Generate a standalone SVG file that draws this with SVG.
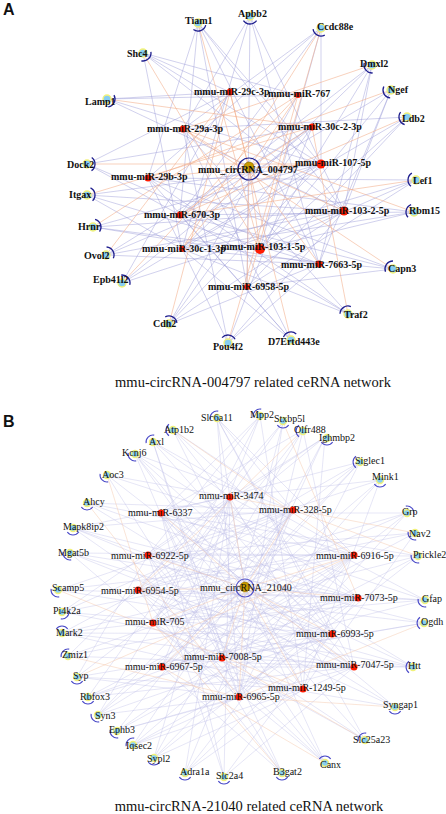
<svg xmlns="http://www.w3.org/2000/svg" xmlns:xlink="http://www.w3.org/1999/xlink" width="446" height="814" viewBox="0 0 446 814">
<style>
.ea{stroke:#9a9ad8;stroke-width:0.7;fill:none;opacity:0.65}
.oa{stroke:#f3ad88;stroke-width:0.7;fill:none;opacity:0.8}
.eb{stroke:#bcbce8;stroke-width:0.55;fill:none;opacity:0.7}
.ob{stroke:#f5c6ab;stroke-width:0.55;fill:none;opacity:0.85}
.gn{fill:#86cdf2;stroke:#f2f27a;stroke-width:1.4}
.mi{fill:#ff1a00}
.ta{font-family:"Liberation Serif","Times New Roman",serif;font-weight:bold;font-size:10px;fill:#111}
.tb{font-family:"Liberation Serif","Times New Roman",serif;font-size:10px;fill:#111}
.ttl{font-family:"Liberation Serif","Times New Roman",serif;font-size:14.5px;fill:#111}
.lbl{font-family:"Liberation Sans",Arial,sans-serif;font-weight:bold;font-size:16px;fill:#111}
.arcA{fill:none;stroke:#1e1e8e;stroke-width:1.3}
.arcB{fill:none;stroke:#4a4ac8;stroke-width:1.1}
</style>
<defs>
<path id="aA" class="arcA" d="M4.59,-6.55 A8,8 0 0 1 4.59,6.55"/>
<path id="aB" class="arcB" d="M4.0,-5.7 A7,7 0 0 1 4.0,5.7"/>
</defs>
<rect width="446" height="814" fill="#fff"/>
<text class="lbl" x="3" y="15">A</text>
<text class="lbl" x="3" y="427">B</text>
<g id="connectors">
<path class="ea" d="M198 23L148 178M198 23L180 215M198 23L247 287M198 23L344 211M198 23L321 164M198 23L319 264M250 16L183 129M250 16L344 211M250 16L319 264M250 16L247 287M250 16L182 249M321 28L183 129M321 28L148 178M321 28L180 215M321 28L260 249M321 28L321 164M143 53L230 92M143 53L298 95M143 53L321 164M143 53L182 249M143 53L344 211M372 65L182 249M372 65L260 249M372 65L319 264M372 65L344 211M372 65L180 215M391 90L180 215M391 90L260 249M391 90L319 264M391 90L344 211M107 99L230 92M107 99L321 164M107 99L344 211M107 99L298 95M407 117L182 249M407 117L260 249M407 117L247 287M407 117L183 129M87 164L230 92M87 164L312 127M87 164L319 264M87 164L180 215M416 180L148 178M416 180L182 249M416 180L260 249M416 180L247 287M87 195L321 164M87 195L344 211M87 195L319 264M87 195L182 249M414 212L148 178M414 212L182 249M414 212L260 249M414 212L180 215M93 227L321 164M93 227L344 211M93 227L319 264M93 227L260 249M106 255L312 127M106 255L321 164M106 255L344 211M106 255L319 264M393 269L148 178M393 269L180 215M393 269L182 249M393 269L247 287M122 283L230 92M122 283L312 127M122 283L321 164M122 283L344 211M169 324L312 127M169 324L321 164M169 324L344 211M169 324L319 264M169 324L298 95M348 314L183 129M348 314L148 178M348 314L180 215M348 314L182 249M228 343L183 129M228 343L312 127M228 343L344 211M228 343L319 264M228 343L148 178M291 340L183 129M291 340L148 178M291 340L180 215M291 340L182 249"/>
<path class="oa" d="M249 168L230 92M249 168L298 95M249 168L312 127M249 168L183 129M249 168L321 164M249 168L148 178M249 168L344 211M249 168L180 215M249 168L182 249M249 168L260 249M249 168L319 264M249 168L247 287M198 23L260 249M321 28L182 249M321 28L247 287M143 53L260 249M372 65L183 129M391 90L148 178M107 99L312 127M407 117L180 215M87 164L321 164M87 195L312 127M93 227L298 95M416 180L180 215M414 212L183 129M393 269L183 129M106 255L230 92M122 283L298 95M169 324L230 92M348 314L312 127M228 343L298 95M291 340L230 92"/>
<path class="eb" d="M217 418L293 510M217 418L354 555M217 418L332 634M217 418L354 667M217 418L239 697M260 416L161 513M260 416L148 555M260 416L153 623M260 416L162 667M260 416L303 689M283 422L230 497M283 422L138 590M283 422L222 658M283 422L239 697M303 430L161 513M303 430L153 623M303 430L162 667M303 430L239 697M303 430L354 667M325 437L148 555M325 437L138 590M325 437L222 658M325 437L303 689M325 437L230 497M173 430L293 510M173 430L358 598M173 430L332 634M173 430L303 689M153 442L230 497M153 442L354 555M153 442L354 667M153 442L239 697M153 442L222 658M135 454L293 510M135 454L358 598M135 454L332 634M135 454L303 689M135 454L239 697M107 475L230 497M107 475L354 555M107 475L222 658M107 475L354 667M360 462L161 513M360 462L138 590M360 462L153 623M360 462L162 667M360 462L239 697M380 480L148 555M380 480L230 497M380 480L222 658M380 480L162 667M380 480L303 689M87 503L293 510M87 503L354 555M87 503L358 598M87 503L354 667M407 513L161 513M407 513L138 590M407 513L153 623M407 513L222 658M407 513L239 697M73 528L230 497M73 528L293 510M73 528L358 598M73 528L332 634M73 528L303 689M415 533L148 555M415 533L138 590M415 533L162 667M415 533L303 689M70 553L354 555M70 553L358 598M70 553L332 634M70 553L354 667M70 553L239 697M418 556L161 513M418 556L148 555M418 556L153 623M418 556L222 658M418 556L239 697M58 590L293 510M58 590L354 555M58 590L358 598M58 590L332 634M425 600L230 497M425 600L138 590M425 600L153 623M425 600L162 667M425 600L161 513M62 612L293 510M62 612L354 555M62 612L332 634M62 612L354 667M62 612L230 497M424 623L148 555M424 623L138 590M424 623L222 658M424 623L162 667M62 633L358 598M62 633L332 634M62 633L354 667M62 633L303 689M62 633L293 510M413 667L161 513M413 667L138 590M413 667L153 623M413 667L222 658M413 667L162 667M68 656L230 497M68 656L354 555M68 656L358 598M68 656L354 667M77 677L293 510M77 677L332 634M77 677L303 689M77 677L239 697M77 677L148 555M88 697L230 497M88 697L354 555M88 697L358 598M88 697L222 658M88 697L354 667M395 707L161 513M395 707L148 555M395 707L138 590M395 707L162 667M98 715L293 510M98 715L354 555M98 715L332 634M98 715L303 689M98 715L230 497M117 731L358 598M117 731L354 667M117 731L239 697M117 731L293 510M117 731L222 658M365 740L230 497M365 740L161 513M365 740L138 590M365 740L153 623M133 745L293 510M133 745L354 555M133 745L332 634M133 745L303 689M133 745L239 697M154 758L230 497M154 758L358 598M154 758L354 667M154 758L354 555M154 758L293 510M325 763L161 513M325 763L148 555M325 763L138 590M325 763L153 623M185 773L230 497M185 773L293 510M185 773L354 555M185 773L332 634M185 773L303 689M224 777L230 497M224 777L161 513M224 777L358 598M224 777L354 667M224 777L148 555M282 773L161 513M282 773L148 555M282 773L138 590M282 773L162 667M245 588L217 418M245 588L325 437M245 588L360 462M245 588L73 528M245 588L425 600M245 588L413 667M245 588L98 715M245 588L325 763M245 588L135 454M245 588L62 633"/>
<path class="ob" d="M245 588L230 497M245 588L293 510M245 588L161 513M245 588L148 555M245 588L354 555M245 588L138 590M245 588L358 598M245 588L153 623M245 588L332 634M245 588L222 658M245 588L162 667M245 588L354 667M245 588L303 689M245 588L239 697M283 422L358 598M173 430L354 555M107 475L153 623M87 503L239 697M415 533L230 497M58 590L303 689M424 623L239 697M68 656L239 697M395 707L239 697M365 740L222 658M325 763L162 667M282 773L153 623M303 430L138 590M418 556L293 510M77 677L354 555"/>
</g>
<g id="panelA-nodes">
<g id="circ004797"><circle cx="249" cy="169" r="11" fill="none" stroke="#23238f" stroke-width="1.2"/><circle cx="249" cy="167" r="5" fill="#c89b00" stroke="#7a5f00" stroke-width="0.6"/><text class="ta" x="198" y="173">mmu_circRNA_004797</text></g>
<g id="miR-29c-3p"><circle class="mi" cx="230" cy="92" r="3.5"/><text class="ta" x="194" y="95">mmu-miR-29c-3p</text></g>
<g id="miR-767"><circle class="mi" cx="298" cy="95" r="3"/><text class="ta" x="268" y="97">mmu-miR-767</text></g>
<g id="miR-30c-2-3p"><circle class="mi" cx="312" cy="127" r="3.5"/><text class="ta" x="278" y="130">mmu-miR-30c-2-3p</text></g>
<g id="miR-29a-3p"><circle class="mi" cx="183" cy="129" r="3.5"/><text class="ta" x="147" y="132">mmu-miR-29a-3p</text></g>
<g id="miR-107-5p"><circle class="mi" cx="321" cy="164" r="4.5"/><text class="ta" x="295" y="166">mmu-miR-107-5p</text></g>
<g id="miR-29b-3p"><circle class="mi" cx="148" cy="178" r="3.5"/><text class="ta" x="111" y="180">mmu-miR-29b-3p</text></g>
<g id="miR-103-2-5p"><circle class="mi" cx="344" cy="211" r="4.5"/><text class="ta" x="305" y="214">mmu-miR-103-2-5p</text></g>
<g id="miR-670-3p"><circle class="mi" cx="180" cy="215" r="3.5"/><text class="ta" x="144" y="218">mmu-miR-670-3p</text></g>
<g id="miR-30c-1-3p"><circle class="mi" cx="182" cy="249" r="3"/><text class="ta" x="142" y="252">mmu-miR-30c-1-3p</text></g>
<g id="miR-103-1-5p"><circle class="mi" cx="260" cy="249" r="5"/><text class="ta" x="221" y="250">mmu-miR-103-1-5p</text></g>
<g id="miR-7663-5p"><circle class="mi" cx="319" cy="264" r="3.5"/><text class="ta" x="281" y="268">mmu-miR-7663-5p</text></g>
<g id="miR-6958-5p"><circle class="mi" cx="247" cy="287" r="3"/><text class="ta" x="208" y="290">mmu-miR-6958-5p</text></g>
<g id="Tiam1"><circle class="gn" cx="198" cy="23" r="4"/><use href="#aA" transform="translate(198 23) rotate(70)"/><text class="ta" x="185" y="24">Tiam1</text></g>
<g id="Apbb2"><circle class="gn" cx="250" cy="16" r="4"/><use href="#aA" transform="translate(250 16) rotate(90)"/><text class="ta" x="238" y="17">Apbb2</text></g>
<g id="Ccdc88e"><circle class="gn" cx="321" cy="28" r="4"/><use href="#aA" transform="translate(321 28) rotate(117)"/><text class="ta" x="317" y="30">Ccdc88e</text></g>
<g id="Shc4"><circle class="gn" cx="143" cy="53" r="4"/><use href="#aA" transform="translate(143 53) rotate(47)"/><text class="ta" x="127" y="57">Shc4</text></g>
<g id="Dmxl2"><circle class="gn" cx="372" cy="65" r="4"/><use href="#aA" transform="translate(372 65) rotate(140)"/><text class="ta" x="360" y="67">Dmxl2</text></g>
<g id="Ngef"><circle class="gn" cx="391" cy="90" r="4"/><use href="#aA" transform="translate(391 90) rotate(151)"/><text class="ta" x="388" y="93">Ngef</text></g>
<g id="Lamp1"><circle class="gn" cx="107" cy="99" r="4"/><use href="#aA" transform="translate(107 99) rotate(26)"/><text class="ta" x="85" y="105">Lamp1</text></g>
<g id="Ldb2"><circle class="gn" cx="407" cy="117" r="4"/><use href="#aA" transform="translate(407 117) rotate(162)"/><text class="ta" x="402" y="122">Ldb2</text></g>
<g id="Dock2"><circle class="gn" cx="87" cy="164" r="4"/><use href="#aA" transform="translate(87 164) rotate(1)"/><text class="ta" x="67" y="168">Dock2</text></g>
<g id="Lef1"><circle class="gn" cx="416" cy="180" r="4"/><use href="#aA" transform="translate(416 180) rotate(184)"/><text class="ta" x="413" y="184">Lef1</text></g>
<g id="Itgax"><circle class="gn" cx="87" cy="195" r="4"/><use href="#aA" transform="translate(87 195) rotate(-9)"/><text class="ta" x="69" y="198">Itgax</text></g>
<g id="Rbm15"><circle class="gn" cx="414" cy="212" r="4"/><use href="#aA" transform="translate(414 212) rotate(194)"/><text class="ta" x="409" y="214">Rbm15</text></g>
<g id="Hrnr"><circle class="gn" cx="93" cy="227" r="4"/><use href="#aA" transform="translate(93 227) rotate(-20)"/><text class="ta" x="78" y="230">Hrnr</text></g>
<g id="Ovol2"><circle class="gn" cx="106" cy="255" r="4"/><use href="#aA" transform="translate(106 255) rotate(-31)"/><text class="ta" x="84" y="259">Ovol2</text></g>
<g id="Capn3"><circle class="gn" cx="393" cy="269" r="4"/><use href="#aA" transform="translate(393 269) rotate(215)"/><text class="ta" x="388" y="272">Capn3</text></g>
<g id="Epb41l2"><circle class="gn" cx="122" cy="283" r="4"/><use href="#aA" transform="translate(122 283) rotate(-41)"/><text class="ta" x="93" y="283">Epb41l2</text></g>
<g id="Cdh2"><circle class="gn" cx="169" cy="324" r="4"/><use href="#aA" transform="translate(169 324) rotate(-63)"/><text class="ta" x="153" y="327">Cdh2</text></g>
<g id="Traf2"><circle class="gn" cx="348" cy="314" r="4"/><use href="#aA" transform="translate(348 314) rotate(236)"/><text class="ta" x="344" y="318">Traf2</text></g>
<g id="Pou4f2"><circle class="gn" cx="228" cy="343" r="4"/><use href="#aA" transform="translate(228 343) rotate(-83)"/><text class="ta" x="213" y="350">Pou4f2</text></g>
<g id="D7Ertd443e"><circle class="gn" cx="291" cy="340" r="4"/><use href="#aA" transform="translate(291 340) rotate(256)"/><text class="ta" x="268" y="345">D7Ertd443e</text></g>
</g>
<text class="ttl" x="253" y="387" text-anchor="middle">mmu-circRNA-004797 related ceRNA network</text>
<g id="panelB-nodes">
<g id="circ21040"><circle cx="245" cy="588" r="9" fill="none" stroke="#5555cc" stroke-width="1.2"/><circle cx="245" cy="587" r="5" fill="#c89b00" stroke="#7a5f00" stroke-width="0.5"/><text class="tb" x="200" y="591">mmu_circRNA_21040</text></g>
<g id="miR-3474"><circle class="mi" cx="230" cy="497" r="3.5"/><text class="tb" x="199" y="499">mmu-miR-3474</text></g>
<g id="miR-328-5p"><circle class="mi" cx="293" cy="510" r="3.5"/><text class="tb" x="259" y="513">mmu-miR-328-5p</text></g>
<g id="miR-6337"><circle class="mi" cx="161" cy="513" r="3.5"/><text class="tb" x="128" y="516">mmu-miR-6337</text></g>
<g id="miR-6922-5p"><circle class="mi" cx="148" cy="555" r="3.5"/><text class="tb" x="111" y="559">mmu-miR-6922-5p</text></g>
<g id="miR-6916-5p"><circle class="mi" cx="354" cy="555" r="3.5"/><text class="tb" x="316" y="559">mmu-miR-6916-5p</text></g>
<g id="miR-6954-5p"><circle class="mi" cx="138" cy="590" r="3.5"/><text class="tb" x="101" y="594">mmu-miR-6954-5p</text></g>
<g id="miR-7073-5p"><circle class="mi" cx="358" cy="598" r="3.5"/><text class="tb" x="320" y="601">mmu-miR-7073-5p</text></g>
<g id="miR-705"><circle class="mi" cx="153" cy="623" r="3.5"/><text class="tb" x="125" y="625">mmu-miR-705</text></g>
<g id="miR-6993-5p"><circle class="mi" cx="332" cy="634" r="3.5"/><text class="tb" x="296" y="637">mmu-miR-6993-5p</text></g>
<g id="miR-7008-5p"><circle class="mi" cx="222" cy="658" r="3.5"/><text class="tb" x="184" y="660">mmu-miR-7008-5p</text></g>
<g id="miR-6967-5p"><circle class="mi" cx="162" cy="667" r="3.5"/><text class="tb" x="125" y="670">mmu-miR-6967-5p</text></g>
<g id="miR-7047-5p"><circle class="mi" cx="354" cy="667" r="3.5"/><text class="tb" x="316" y="668">mmu-miR-7047-5p</text></g>
<g id="miR-1249-5p"><circle class="mi" cx="303" cy="689" r="3.5"/><text class="tb" x="268" y="691">mmu-miR-1249-5p</text></g>
<g id="miR-6965-5p"><circle class="mi" cx="239" cy="697" r="3.5"/><text class="tb" x="202" y="700">mmu-miR-6965-5p</text></g>
<g id="Slc6a11"><circle class="gn" cx="217" cy="418" r="3.5"/><use href="#aB" transform="translate(217 418) rotate(225)"/><text class="tb" x="201" y="421">Slc6a11</text></g>
<g id="Mpp2"><circle class="gn" cx="260" cy="416" r="3.5"/><use href="#aB" transform="translate(260 416) rotate(225)"/><text class="tb" x="250" y="418">Mpp2</text></g>
<g id="Stxbp5l"><circle class="gn" cx="283" cy="421" r="3.5"/><use href="#aB" transform="translate(283 421) rotate(90)"/><text class="tb" x="274" y="422">Stxbp5l</text></g>
<g id="Olfr488"><circle class="gn" cx="303" cy="431" r="3.5"/><use href="#aB" transform="translate(303 431) rotate(180)"/><text class="tb" x="294" y="433">Olfr488</text></g>
<g id="Ighmbp2"><circle class="gn" cx="327" cy="438" r="3.5"/><use href="#aB" transform="translate(327 438) rotate(90)"/><text class="tb" x="319" y="441">Ighmbp2</text></g>
<g id="Atp1b2"><circle class="gn" cx="173" cy="430" r="3.5"/><use href="#aB" transform="translate(173 430) rotate(180)"/><text class="tb" x="164" y="433">Atp1b2</text></g>
<g id="Axl"><circle class="gn" cx="153" cy="442" r="3.5"/><use href="#aB" transform="translate(153 442) rotate(225)"/><text class="tb" x="149" y="445">Axl</text></g>
<g id="Kcnj6"><circle class="gn" cx="135" cy="454" r="3.5"/><use href="#aB" transform="translate(135 454) rotate(135)"/><text class="tb" x="122" y="456">Kcnj6</text></g>
<g id="Aoc3"><circle class="gn" cx="107" cy="475" r="3.5"/><use href="#aB" transform="translate(107 475) rotate(135)"/><text class="tb" x="102" y="478">Aoc3</text></g>
<g id="Siglec1"><circle class="gn" cx="360" cy="462" r="3.5"/><use href="#aB" transform="translate(360 462) rotate(180)"/><text class="tb" x="355" y="464">Siglec1</text></g>
<g id="Mink1"><circle class="gn" cx="380" cy="480" r="3.5"/><use href="#aB" transform="translate(380 480) rotate(90)"/><text class="tb" x="372" y="480">Mink1</text></g>
<g id="Ahcy"><circle class="gn" cx="87" cy="503" r="3.5"/><use href="#aB" transform="translate(87 503) rotate(90)"/><text class="tb" x="83" y="505">Ahcy</text></g>
<g id="Grp"><circle class="gn" cx="407" cy="513" r="3.5"/><use href="#aB" transform="translate(407 513) rotate(315)"/><text class="tb" x="402" y="515">Grp</text></g>
<g id="Mapk8ip2"><circle class="gn" cx="73" cy="528" r="3.5"/><use href="#aB" transform="translate(73 528) rotate(90)"/><text class="tb" x="63" y="530">Mapk8ip2</text></g>
<g id="Nav2"><circle class="gn" cx="415" cy="533" r="3.5"/><use href="#aB" transform="translate(415 533) rotate(135)"/><text class="tb" x="409" y="537">Nav2</text></g>
<g id="Mgat5b"><circle class="gn" cx="70" cy="553" r="3.5"/><use href="#aB" transform="translate(70 553) rotate(135)"/><text class="tb" x="58" y="556">Mgat5b</text></g>
<g id="Prickle2"><circle class="gn" cx="418" cy="556" r="3.5"/><use href="#aB" transform="translate(418 556) rotate(135)"/><text class="tb" x="413" y="558">Prickle2</text></g>
<g id="Scamp5"><circle class="gn" cx="58" cy="590" r="3.5"/><use href="#aB" transform="translate(58 590) rotate(135)"/><text class="tb" x="52" y="591">Scamp5</text></g>
<g id="Gfap"><circle class="gn" cx="425" cy="600" r="3.5"/><use href="#aB" transform="translate(425 600) rotate(135)"/><text class="tb" x="422" y="602">Gfap</text></g>
<g id="Pi4k2a"><circle class="gn" cx="62" cy="612" r="3.5"/><use href="#aB" transform="translate(62 612) rotate(45)"/><text class="tb" x="53" y="614">Pi4k2a</text></g>
<g id="Ogdh"><circle class="gn" cx="424" cy="623" r="3.5"/><use href="#aB" transform="translate(424 623) rotate(180)"/><text class="tb" x="421" y="625">Ogdh</text></g>
<g id="Mark2"><circle class="gn" cx="62" cy="633" r="3.5"/><use href="#aB" transform="translate(62 633) rotate(270)"/><text class="tb" x="56" y="636">Mark2</text></g>
<g id="Zmiz1"><circle class="gn" cx="68" cy="656" r="3.5"/><use href="#aB" transform="translate(68 656) rotate(225)"/><text class="tb" x="62" y="658">Zmiz1</text></g>
<g id="Htt"><circle class="gn" cx="413" cy="667" r="3.5"/><use href="#aB" transform="translate(413 667) rotate(180)"/><text class="tb" x="408" y="669">Htt</text></g>
<g id="Syp"><circle class="gn" cx="77" cy="677" r="3.5"/><use href="#aB" transform="translate(77 677) rotate(90)"/><text class="tb" x="73" y="679">Syp</text></g>
<g id="Rbfox3"><circle class="gn" cx="88" cy="697" r="3.5"/><use href="#aB" transform="translate(88 697) rotate(90)"/><text class="tb" x="80" y="700">Rbfox3</text></g>
<g id="Syngap1"><circle class="gn" cx="395" cy="707" r="3.5"/><use href="#aB" transform="translate(395 707) rotate(90)"/><text class="tb" x="383" y="708">Syngap1</text></g>
<g id="Syn3"><circle class="gn" cx="98" cy="715" r="3.5"/><use href="#aB" transform="translate(98 715) rotate(135)"/><text class="tb" x="95" y="719">Syn3</text></g>
<g id="Ephb3"><circle class="gn" cx="117" cy="731" r="3.5"/><use href="#aB" transform="translate(117 731) rotate(135)"/><text class="tb" x="109" y="733">Ephb3</text></g>
<g id="Slc25a23"><circle class="gn" cx="365" cy="740" r="3.5"/><use href="#aB" transform="translate(365 740) rotate(225)"/><text class="tb" x="353" y="743">Slc25a23</text></g>
<g id="Iqsec2"><circle class="gn" cx="133" cy="745" r="3.5"/><use href="#aB" transform="translate(133 745) rotate(225)"/><text class="tb" x="126" y="749">Iqsec2</text></g>
<g id="Sypl2"><circle class="gn" cx="154" cy="758" r="3.5"/><use href="#aB" transform="translate(154 758) rotate(90)"/><text class="tb" x="147" y="762">Sypl2</text></g>
<g id="Canx"><circle class="gn" cx="325" cy="763" r="3.5"/><use href="#aB" transform="translate(325 763) rotate(270)"/><text class="tb" x="320" y="768">Canx</text></g>
<g id="Adra1a"><circle class="gn" cx="185" cy="773" r="3.5"/><use href="#aB" transform="translate(185 773) rotate(90)"/><text class="tb" x="180" y="775">Adra1a</text></g>
<g id="Slc2a4"><circle class="gn" cx="224" cy="777" r="3.5"/><use href="#aB" transform="translate(224 777) rotate(90)"/><text class="tb" x="216" y="779">Slc2a4</text></g>
<g id="B3gat2"><circle class="gn" cx="282" cy="773" r="3.5"/><use href="#aB" transform="translate(282 773) rotate(90)"/><text class="tb" x="273" y="775">B3gat2</text></g>
</g>
<text class="ttl" x="249" y="811" text-anchor="middle">mmu-circRNA-21040 related ceRNA network</text>
</svg>
